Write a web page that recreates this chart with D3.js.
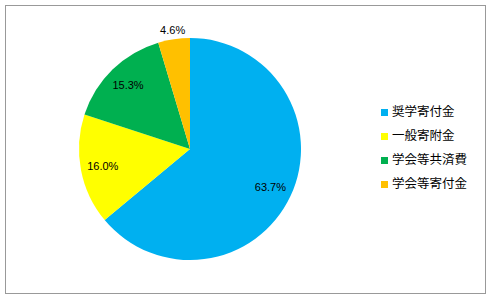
<!DOCTYPE html>
<html lang="ja">
<head>
<meta charset="UTF-8">
<title>寄付金内訳</title>
<script src="https://d3js.org/d3.v7.min.js"></script>
<style>
  body { margin: 0; background: #fff; }
  svg { display: block; }
</style>
</head>
<body>
<svg></svg>
<script>
const categories = ["奨学寄付金", "一般寄附金", "学会等共済費", "学会等寄付金"];
const values = [63.7, 16.0, 15.3, 4.6];
const colors = ["#00B0F0", "#FFFF00", "#00B050", "#FFC000"];
const labels = ["63.7%", "16.0%", "15.3%", "4.6%"];
const outside = [false, false, false, true];

const width = 492, height = 300;
const cx = 190, cy = 149, r = 111;

const svg = d3.select("svg")
    .attr("width", width)
    .attr("height", height);

// frame
svg.append("rect")
    .attr("x", 5.5).attr("y", 5.5)
    .attr("width", 480).attr("height", 288)
    .attr("fill", "#fff")
    .attr("stroke", "#999");

const pie = d3.pie().sort(null).value(d => d);
const arcs = pie(values);

const arc = d3.arc().innerRadius(0).outerRadius(r);
const labelArc = d3.arc().innerRadius(r * 0.8).outerRadius(r * 0.8);
const outArc = d3.arc().innerRadius(r + 9).outerRadius(r + 9);

const g = svg.append("g").attr("transform", `translate(${cx},${cy})`);

g.selectAll("path")
    .data(arcs)
    .enter().append("path")
    .attr("d", arc)
    .attr("fill", (d, i) => colors[i]);

g.selectAll("text")
    .data(arcs)
    .enter().append("text")
    .attr("transform", (d, i) => `translate(${(outside[i] ? outArc : labelArc).centroid(d)})`)
    .attr("text-anchor", "middle")
    .attr("dy", "0.35em")
    .attr("font-family", "'Liberation Sans', Arial, sans-serif")
    .attr("font-size", 11)
    .attr("fill", "#000")
    .text((d, i) => labels[i]);

// legend
const legend = svg.append("g").attr("transform", "translate(381,112)");
const rows = legend.selectAll("g")
    .data(categories)
    .enter().append("g")
    .attr("transform", (d, i) => `translate(0,${i * 24})`);

rows.append("rect")
    .attr("x", 0).attr("y", -3)
    .attr("width", 7).attr("height", 7)
    .attr("fill", (d, i) => colors[i]);

rows.append("text")
    .attr("x", 11)
    .attr("dy", "0.35em")
    .attr("font-family", "'Noto Sans CJK JP', sans-serif")
    .attr("font-size", 12.5)
    .attr("fill", "#000")
    .text(d => d);
</script>
</body>
</html>
